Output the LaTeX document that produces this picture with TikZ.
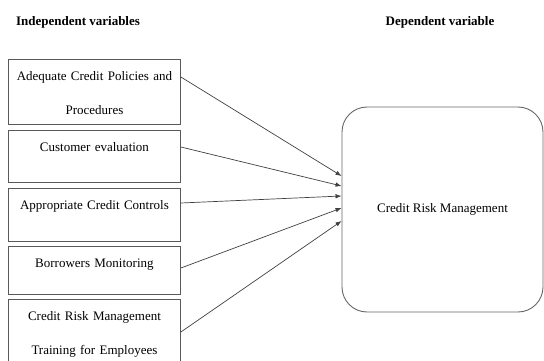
\documentclass[tikz,border=0pt]{standalone}
\usepackage{fontspec}
\setmainfont{Liberation Serif}
\usetikzlibrary{positioning,calc,arrows.meta}

\begin{document}
\begin{tikzpicture}[x=1pt,y=-1pt]
        \tikzset{
            ivar/.style={draw=black!65, line width=0.9pt, inner sep=0pt, anchor=north west, text width=172pt, align=center, text height=21pt, font=\fontsize{13}{34}\selectfont},
            dvar/.style={draw=black!60, line width=0.9pt, rounded corners=25pt, minimum width=201pt, minimum height=205pt, font=\fontsize{13}{16}\selectfont},
            head/.style={anchor=base, font=\fontsize{13}{16}\selectfont\bfseries},
            link/.style={black!75, line width=0.7pt, -{Latex[length=6pt,width=4.5pt]}}
        }
        \useasboundingbox (0,0) rectangle (544,361);
        \node[head] (hi) at (78,26) {Independent variables};
        \node[head] (hd) at (440,26) {Dependent variable};
        \node[ivar, text depth=44pt] (pol) at (8,59) {Adequate Credit Policies and\\ Procedures};
        \node[ivar, text depth=31pt] (cust) at (8,130) {Customer evaluation};
        \node[ivar, text depth=32pt] (ctrl) at (8,188) {Appropriate Credit Controls};
        \node[ivar, text depth=27pt] (mon) at (8,246) {Borrowers Monitoring};
        \node[ivar, text depth=50pt] (trn) at (8,299) {Credit Risk Management\\ Training for Employees};
        \node[dvar] (crm) at (442.5,209.5) {Credit Risk Management};
        \draw[link] ([yshift=-18pt]pol.north east) -- ([yshift=33.5pt]crm.west);
        \draw[link] ([yshift=-17pt]cust.north east) -- ([yshift=23.5pt]crm.west);
        \draw[link] ([yshift=-15pt]ctrl.north east) -- ([yshift=13.5pt]crm.west);
        \draw[link] ([yshift=-22pt]mon.north east) -- ([yshift=1.5pt]crm.west);
        \draw[link] ([yshift=-33pt]trn.north east) -- ([yshift=-11.5pt]crm.west);
    \end{tikzpicture}
\end{document}
